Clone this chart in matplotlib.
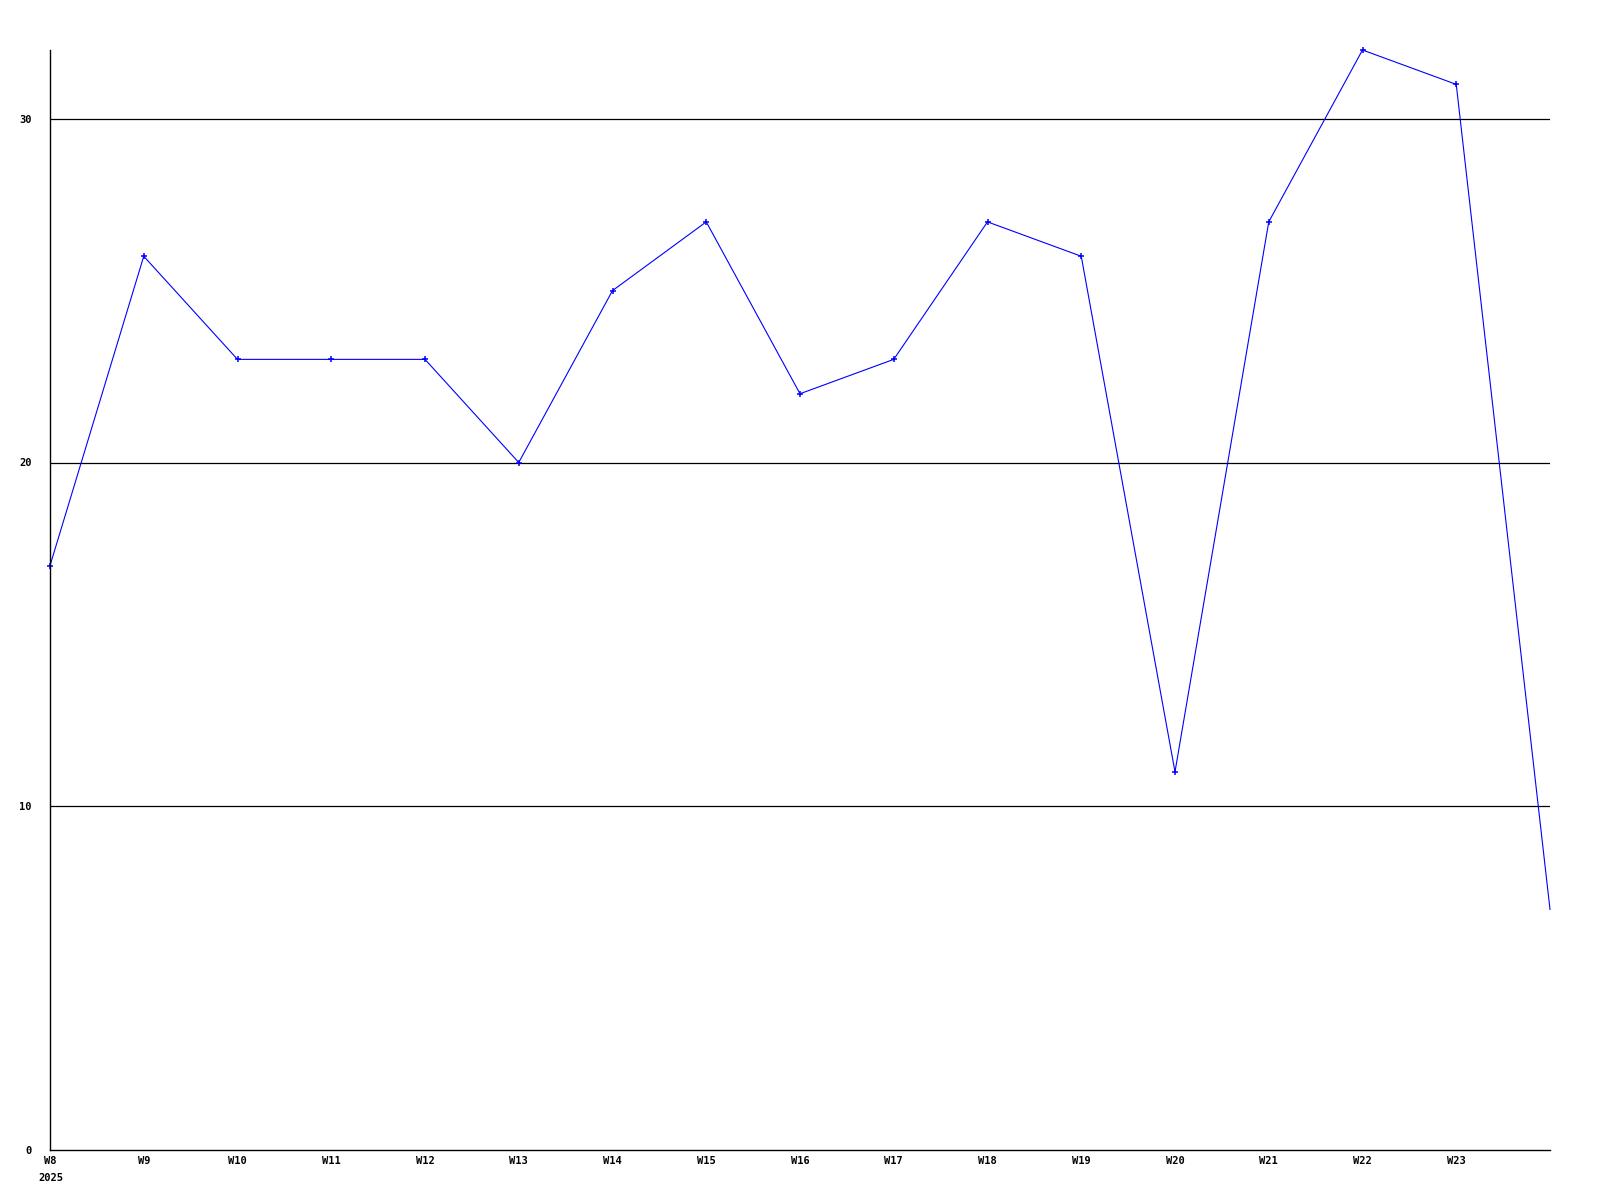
import matplotlib
matplotlib.use("Agg")
import matplotlib.pyplot as plt
import numpy as np

# weekly values
weeks = ["W8", "W9", "W10", "W11", "W12", "W13", "W14", "W15", "W16",
         "W17", "W18", "W19", "W20", "W21", "W22", "W23", ""]
values = [17, 26, 23, 23, 23, 20, 25, 27, 22, 23, 27, 26, 11, 27, 32, 31, 7]
year_label = "2025"
y_ticks = [0, 10, 20, 30]

FONT = dict(family="DejaVu Sans Mono", fontweight="bold", fontsize=7.5)

fig = plt.figure(figsize=(16, 12), dpi=100)
ax = fig.add_axes([50 / 1600, 50 / 1200, 1500 / 1600, 1100 / 1200])

x = np.arange(len(values))
ax.plot(x, values, color="#0000ff", lw=0.8, marker="+", ms=4, mew=1.1,
        markevery=list(range(len(values) - 1)), clip_on=False)

ax.set_xlim(0, len(values) - 1)
ax.set_ylim(0, max(values))

for v in y_ticks[1:]:
    ax.axhline(v, color="black", lw=0.9, zorder=0)

ax.set_yticks(y_ticks)
ax.set_yticklabels([str(v) for v in y_ticks], **FONT)
ax.set_xticks(x)
ax.set_xticklabels(weeks, **FONT)
ax.tick_params(axis="both", length=0)
ax.tick_params(axis="x", pad=4)
ax.tick_params(axis="y", pad=13)

ax.text(-0.12, -0.021, year_label, transform=ax.get_xaxis_transform(),
        ha="left", va="top", **FONT)

for side in ("top", "right"):
    ax.spines[side].set_visible(False)
for side in ("left", "bottom"):
    ax.spines[side].set_color("black")
    ax.spines[side].set_linewidth(1.0)

fig.savefig("out.png", dpi=100)
